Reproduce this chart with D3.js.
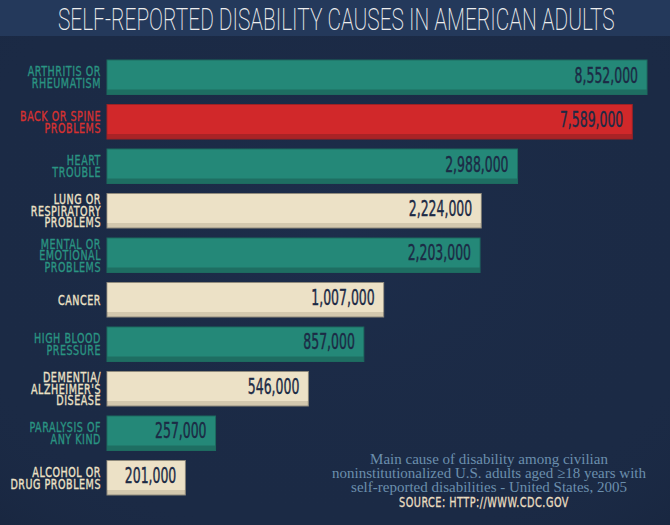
<!DOCTYPE html>
<html>
<head>
<meta charset="utf-8">
<script src="https://cdn.jsdelivr.net/npm/d3@7"></script>
<style>
  html, body { margin: 0; padding: 0; background: #1b2a45; }
  svg { display: block; }
</style>
</head>
<body>
<svg id="chart" width="670" height="525"></svg>
<script>
// ---------- DATA ----------
const title = "SELF-REPORTED DISABILITY CAUSES IN AMERICAN ADULTS";
const categories = [
  ["ARTHRITIS OR", "RHEUMATISM"],
  ["BACK OR SPINE", "PROBLEMS"],
  ["HEART", "TROUBLE"],
  ["LUNG OR", "RESPIRATORY", "PROBLEMS"],
  ["MENTAL OR", "EMOTIONAL", "PROBLEMS"],
  ["CANCER"],
  ["HIGH BLOOD", "PRESSURE"],
  ["DEMENTIA/", "ALZHEIMER'S", "DISEASE"],
  ["PARALYSIS OF", "ANY KIND"],
  ["ALCOHOL OR", "DRUG PROBLEMS"]
];
const values = [8552000, 7589000, 2988000, 2224000, 2203000, 1007000, 857000, 546000, 257000, 201000];
const kinds = ["teal", "red", "teal", "cream", "teal", "cream", "teal", "cream", "teal", "cream"];
const noteLines = [
  "Main cause of disability among civilian",
  "noninstitutionalized U.S. adults aged \u226518 years with",
  "self-reported disabilities - United States, 2005"
];
const source = "SOURCE: HTTP://WWW.CDC.GOV";

// ---------- STYLE ----------
const palette = {
  teal:  { fill: "#248878", shade: "#1e6e62", stroke: "#1d6a5f", label: "#2a9482" },
  red:   { fill: "#d1282a", shade: "#a92326", stroke: "#9c2225", label: "#d63130" },
  cream: { fill: "#ece1c6", shade: "#d3c8ae", stroke: "#8f8a7c", label: "#ece1c6" }
};
const W = 670, H = 525;
const condensed = "'DejaVu Sans Condensed', 'DejaVu Sans', sans-serif";

const svg = d3.select("#chart");
const defs = svg.append("defs");

// soft vignette
const vg = defs.append("radialGradient").attr("id", "vig")
  .attr("cx", "50%").attr("cy", "45%").attr("r", "75%");
vg.append("stop").attr("offset", "0%").attr("stop-color", "#22355a").attr("stop-opacity", 0.3);
vg.append("stop").attr("offset", "75%").attr("stop-color", "#1b2a45").attr("stop-opacity", 0);
vg.append("stop").attr("offset", "100%").attr("stop-color", "#131f35").attr("stop-opacity", 0.3);

svg.append("rect").attr("width", W).attr("height", H).attr("fill", "#1b2a45");
svg.append("rect").attr("width", W).attr("height", H).attr("fill", "url(#vig)");
// title band
svg.append("rect").attr("x", 0).attr("y", 0).attr("width", W).attr("height", 36).attr("fill", "#24395b");

// title (horizontally condensed to span the reference width)
const titleG = svg.append("g");
const titleT = titleG.append("text")
  .attr("x", 0).attr("y", 0)
  .attr("font-family", "Roboto, 'DejaVu Sans', sans-serif")
  .attr("font-weight", 200)
  .attr("font-size", 30.5)
  .attr("fill", "#eeeeee")
  .text(title);
const tW = titleT.node().getComputedTextLength();
titleG.attr("transform", `translate(58,30) scale(${557 / tW},1)`);

// ---------- SCALES ----------
const idx = d3.range(values.length);
const y = d3.scaleBand().domain(idx).range([55, 500]).paddingInner(0.2247).paddingOuter(0.1124);
const x = d3.scaleLog().domain([106400, 8552000]).range([107, 647]);

const shadeH = 5;

const g = svg.append("g");
const bars = g.selectAll("g.bar").data(idx).join("g").attr("class", "bar");

bars.append("rect")
  .attr("x", x.range()[0])
  .attr("y", i => y(i))
  .attr("width", i => x(values[i]) - x.range()[0])
  .attr("height", y.bandwidth())
  .attr("fill", i => palette[kinds[i]].shade)
  .attr("stroke", i => palette[kinds[i]].stroke)
  .attr("stroke-width", 1);

bars.append("rect")
  .attr("x", x.range()[0] + 0.5)
  .attr("y", i => y(i) + 0.5)
  .attr("width", i => x(values[i]) - x.range()[0] - 1)
  .attr("height", y.bandwidth() - shadeH - 0.5)
  .attr("fill", i => palette[kinds[i]].fill);

// values
const fmt = d3.format(",");
bars.append("g")
  .attr("transform", i => `translate(${x(values[i]) - 9},${y(i) + 22.5}) scale(0.66,1)`)
  .append("text")
  .attr("text-anchor", "end")
  .attr("font-family", condensed)
  .attr("font-size", 21)
  .attr("stroke", "#1c2a45")
  .attr("stroke-width", 0.4)
  .attr("fill", "#1c2a45")
  .text(i => fmt(values[i]));

// category labels (one text element per label, lines as tspans)
const lineH = 11.7;
bars.each(function(i) {
  const lines = categories[i];
  const cy = y(i) + y.bandwidth() / 2;
  const txt = d3.select(this).append("g")
    .attr("transform", `translate(101,${cy}) scale(0.76,1)`)
    .append("text")
    .attr("text-anchor", "end")
    .attr("font-family", condensed)
    .attr("font-size", 14)
    .attr("letter-spacing", 0.7)
    .attr("stroke", palette[kinds[i]].label)
    .attr("stroke-width", 0.35)
    .attr("fill", palette[kinds[i]].label);
  lines.forEach((t, k) => {
    txt.append("tspan")
      .attr("x", 0)
      .attr("y", (k - (lines.length - 1) / 2) * lineH + 5)
      .text(t);
  });
});

// note
const note = svg.append("text")
  .attr("text-anchor", "middle")
  .attr("font-family", "'Liberation Serif', 'DejaVu Serif', serif")
  .attr("font-size", 15)
  .attr("fill", "#6b8fad");
noteLines.forEach((t, k) => {
  note.append("tspan")
    .attr("x", 489).attr("y", 464 + k * 14)
    .text(t);
});
svg.append("g")
  .attr("transform", "translate(484,507) scale(0.8,1)")
  .append("text")
  .attr("text-anchor", "middle")
  .attr("font-family", condensed)
  .attr("font-size", 13.5)
  .attr("letter-spacing", 0.6)
  .attr("stroke", "#e9ddc0")
  .attr("stroke-width", 0.3)
  .attr("fill", "#e9ddc0")
  .text(source);
</script>
</body>
</html>
